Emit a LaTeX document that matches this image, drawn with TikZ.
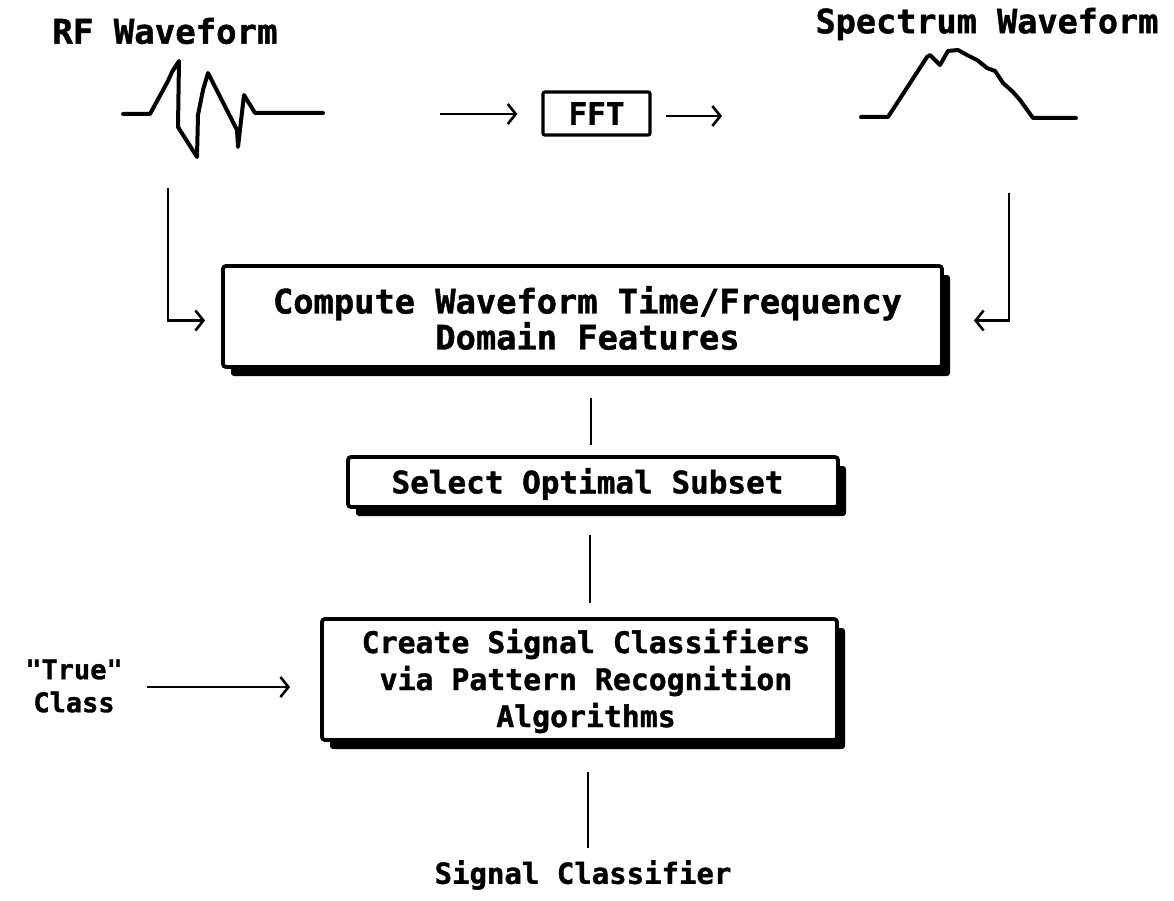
\documentclass[tikz,border=0pt]{standalone}
\usepackage{fontspec}
\usetikzlibrary{arrows.meta,shadows,calc}
\newfontfamily\dmono{DejaVu Sans Mono}[BoldFeatures={FakeBold=1.2}]
\newcommand\fsz[2]{\fontsize{#1pt}{#2pt}\selectfont}
\begin{document}
\begin{tikzpicture}[x=1pt,y=-1pt,
  txt/.style={font=\dmono\bfseries, inner sep=0pt, align=center},
  sbox/.style={draw, line width=3.8pt, fill=white, rounded corners=3pt,
    drop shadow={shadow xshift=8pt, shadow yshift=-9pt, opacity=1, fill=black}},
  wave/.style={line width=4pt, line join=round, line cap=round},
  conn/.style={line width=2.6pt},
  arr/.style={conn, -{Straight Barb[length=8pt,width=20pt,line width=2.6pt]}}]
\useasboundingbox (0,0) rectangle (1174,901);

% titles
\node[txt, font=\dmono\bfseries\fsz{34}{36}] (rflbl) at (165,31) {RF Waveform};
\node[txt, font=\dmono\bfseries\fsz{33.5}{36}] (splbl) at (987,24) {Spectrum Waveform};

% RF waveform
\draw[wave] (123,114) -- (150,114) -- (168,81) -- (172,72) -- (179,61)
  -- (178,127) -- (197,157) -- (198,115) -- (203,90) -- (208,73)
  -- (237,130) -- (238,147) -- (244,95) -- (255,113) -- (323,113);

% spectrum waveform
\draw[wave] (861,117) -- (888,117) -- (927,57) -- (930,55) -- (940,65)
  -- (948,51) -- (958,50) -- (967,55) -- (977,60) -- (987,68) -- (995,71)
  -- (1003,83) -- (1013,92) -- (1020,100) -- (1033,118) -- (1076,118);

% FFT stage
\node[draw, line width=3.2pt, rounded corners=2pt, minimum width=107pt, minimum height=43pt,
  txt, font=\dmono\bfseries\fsz{31}{34}] (fft) at (596.5,113.5) {FFT};
\coordinate (fftin) at (440,114);
\coordinate (fftout) at (722,116);
\draw[arr, shorten >=24pt] (fftin) -- (fft.west |- fftin);
\draw[arr, shorten <=14pt] (fft.east |- fftout) -- (fftout);

% processing boxes
\node[sbox, minimum width=719pt, minimum height=101pt] (feat) at (582.5,316.5) {};
\node[txt, font=\dmono\bfseries\fsz{33.7}{36}] (feattxt) at (587.5,318)
  {Compute Waveform Time/Frequency\\Domain Features};

\node[sbox, minimum width=490pt, minimum height=50pt] (sel) at (593,482) {};
\node[txt, font=\dmono\bfseries\fsz{31}{34}] (seltxt) at (587.5,484) {Select Optimal Subset};

\node[sbox, minimum width=515pt, minimum height=121pt] (cls) at (579.5,679.5) {};
\node[txt, font=\dmono\bfseries\fsz{29.8}{37}] (clstxt) at (586,681)
  {Create Signal Classifiers\\via Pattern Recognition\\Algorithms};

% inputs and output
\node[txt, font=\dmono\bfseries\fsz{27}{33}] (truecls) at (74,686) {"True"\\Class};
\node[txt, font=\dmono\bfseries\fsz{29}{32}] (out) at (583,875) {Signal Classifier};

% connectors
\coordinate (rfdrop) at (168,188);
\coordinate (spdrop) at (1009,193);
\draw[arr, shorten >=16pt] (rfdrop) |- ([yshift=-4pt]feat.west);
\draw[arr, shorten >=30pt] (spdrop) |- ([yshift=-4pt]feat.east);

\coordinate (j1) at (591,398);
\coordinate (j2) at (591,445);
\draw[conn] (j1) -- (j2);
\coordinate (j3) at (590,535);
\coordinate (j4) at (590,603);
\draw[conn] (j3) -- (j4);
\coordinate (j5) at (588,772);
\coordinate (j6) at (588,848);
\draw[conn] (j5) -- (j6);

\coordinate (tc) at (147,687);
\draw[arr, shorten >=30pt] (tc) -- (cls.west |- tc);
\end{tikzpicture}
\end{document}
